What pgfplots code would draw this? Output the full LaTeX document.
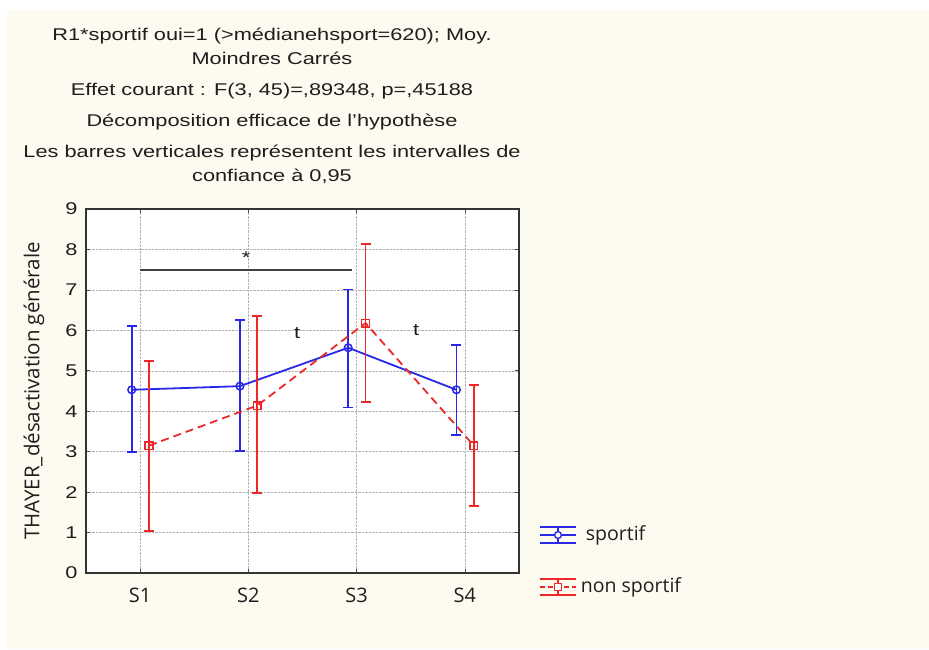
\documentclass[border=0pt]{standalone}
\usepackage{fontspec}
\setmainfont{Liberation Sans}[FakeStretch=1.28]
\newfontfamily\osans{Open Sans}
\usepackage{pgfplots}
\pgfplotsset{compat=1.18}
\definecolor{cream}{RGB}{253,250,240}
\definecolor{sblue}{RGB}{40,40,230}
\definecolor{sred}{RGB}{238,40,40}
\definecolor{txt}{RGB}{30,30,30}
\begin{document}
\begin{tikzpicture}[x=1pt,y=1pt]
\fill[white] (0,0) rectangle (929,649);
\fill[cream] (7,0) rectangle (929,639);
\begin{axis}[
  at={(86pt,76pt)}, anchor=south west,
  width=433pt, height=364pt, scale only axis,
  xmin=0.5, xmax=4.5, ymin=0, ymax=9,
  xtick={1,2,3,4}, xticklabels={S1,S2,S3,S4},
  ytick={0,1,2,3,4,5,6,7,8,9},
  grid=major, grid style={densely dotted, gray!60},
  axis background/.style={fill=white},
  axis line style={black!80, line width=1.3pt},
  tick style={black!70, line width=0.6pt}, major tick length=4pt,
  /pgf/number format/assume math mode=true,
  yticklabel style={font=\fontsize{17}{17}\selectfont, text=txt, xshift=-5pt},
  xticklabel style={font=\osans\fontsize{20}{20}\selectfont, text=txt, yshift=-11pt},
  ylabel={THAYER\_désactivation générale},
  ylabel style={font=\osans\fontsize{20.5}{20.5}\selectfont, text=txt, at={(axis description cs:-0.120,0.5)}, anchor=center},
]
\addplot[color=sblue, line width=1.8pt, mark=o, mark size=3.8pt, mark options={draw=sblue, solid, fill=white, line width=1.5pt},
  error bars/.cd, y dir=both, y explicit,
  error bar style={draw=sblue, line width=1.8pt, solid},
  error mark options={draw=sblue, line width=1.8pt, mark size=5pt, rotate=90}]
  coordinates {
  (0.922,4.53) += (0,1.58) -= (0,1.54)
  (1.922,4.62) += (0,1.63) -= (0,1.61)
  (2.922,5.57) += (0,1.44) -= (0,1.48)
  (3.922,4.53) += (0,1.10) -= (0,1.11)
  };
\addplot[color=sred, line width=1.8pt, dash pattern=on 8pt off 5pt, mark=square, mark size=3.8pt, mark options={draw=sred, solid, fill=white, line width=1.5pt},
  error bars/.cd, y dir=both, y explicit,
  error bar style={draw=sred, line width=1.8pt, solid},
  error mark options={draw=sred, line width=1.8pt, mark size=5pt, rotate=90}]
  coordinates {
  (1.082,3.15) += (0,2.09) -= (0,2.11)
  (2.082,4.14) += (0,2.21) -= (0,2.16)
  (3.082,6.18) += (0,1.96) -= (0,1.95)
  (4.082,3.15) += (0,1.49) -= (0,1.49)
  };
\draw[black!75, line width=1.2pt] (axis cs:1,7.49) -- (axis cs:2.96,7.49);
\node[text=txt, font=\fontsize{17}{17}\selectfont] at (axis cs:1.98,7.8) {*};
\node[text=txt, font=\fontsize{17}{17}\selectfont] at (axis cs:2.45,5.93) {t};
\node[text=txt, font=\fontsize{17}{17}\selectfont] at (axis cs:3.55,6.0) {t};
\end{axis}
% legend
\begin{scope}[line width=1.8pt]
\draw[sblue] (540,106) -- (576,106) (540,122) -- (576,122) (558,106) -- (558,122) (540,114) -- (576,114);
\draw[sblue, fill=white, line width=1.4pt] (558,114) circle (3.4);
\node[anchor=west, font=\osans\fontsize{19.5}{19.5}\selectfont, text=txt, inner sep=0pt] at (585,114) {sportif};
\draw[sred] (540,54) -- (576,54) (540,70) -- (576,70) (558,54) -- (558,70);
\draw[sred, dash pattern=on 5pt off 3pt] (540,62) -- (576,62);
\draw[sred, fill=white, line width=1.4pt] (554.5,58.5) rectangle (561.5,65.5);
\node[anchor=west, font=\osans\fontsize{19.5}{19.5}\selectfont, text=txt, inner sep=0pt] at (580,62) {non sportif};
\end{scope}
% titles
\begin{scope}[every node/.style={anchor=base, text=txt, font=\fontsize{17}{17}\selectfont, inner sep=0pt}]
\node at (272,649-41) {R1*sportif oui=1 (>médianehsport=620); Moy.};
\node at (272,649-65) {Moindres Carrés};
\node at (272,649-96) {Effet courant : F(3, 45)=,89348, p=,45188};
\node at (272,649-127) {Décomposition efficace de l'hypothèse};
\node at (272,649-158) {Les barres verticales représentent les intervalles de};
\node at (272,649-182) {confiance à 0,95};
\end{scope}
\end{tikzpicture}
\end{document}
